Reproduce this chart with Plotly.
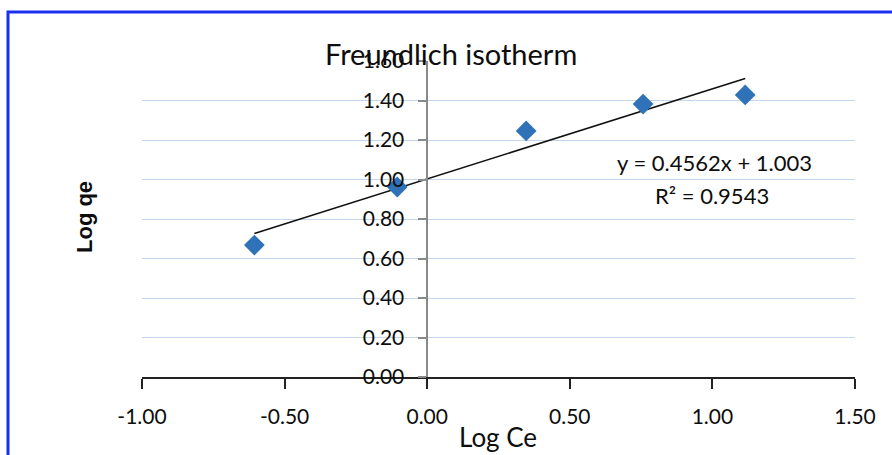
import plotly.graph_objects as go

# Freundlich isotherm data (log-transformed)
log_ce = [-0.606, -0.105, 0.347, 0.757, 1.115]
log_qe = [0.668, 0.962, 1.246, 1.382, 1.428]

# Linear fit reported on the chart
slope = 0.4562
intercept = 1.003
r_squared = 0.9543

x_ticks = [-1.0, -0.5, 0.0, 0.5, 1.0, 1.5]
y_ticks = [0.0, 0.2, 0.4, 0.6, 0.8, 1.0, 1.2, 1.4, 1.6]

W, H = 892, 455
L, R, T, B = 142, 855, 61, 377  # plot area in pixels

def px(xp):
    return (xp - L) / (R - L)

def py(yp):
    return (B - yp) / (B - T)

FONT = "Lato, sans-serif"
INK = "#0d0d0d"

fig = go.Figure()

fit_x = [min(log_ce), max(log_ce)]
fit_y = [slope * v + intercept for v in fit_x]
fig.add_trace(go.Scatter(
    x=fit_x, y=fit_y, mode="lines",
    line=dict(color="#111111", width=1.6),
    showlegend=False, hoverinfo="skip",
))

fig.add_trace(go.Scatter(
    x=log_ce, y=log_qe, mode="markers",
    marker=dict(symbol="diamond", size=16, color="#2f72b8",
                line=dict(width=0)),
    showlegend=False,
))

def note(text, x, y, size, family=FONT, angle=0, weight="normal"):
    return dict(text=text, xref="paper", yref="paper",
                x=px(x), y=py(y), xanchor="center", yanchor="middle",
                showarrow=False, textangle=angle,
                font=dict(family=family, size=size, color=INK, weight=weight))

fig.update_layout(
    width=W, height=H,
    margin=dict(l=L, r=W - R, t=T, b=H - B),
    paper_bgcolor="white", plot_bgcolor="white",
    font=dict(family=FONT, size=20, color=INK),
    xaxis=dict(
        range=[-1.0, 1.5], domain=[0, 1],
        tickvals=x_ticks, ticktext=[f"{v:.2f}" for v in x_ticks],
        showgrid=False, zeroline=False,
        showline=True, linecolor="#222222", linewidth=1.5,
        ticks="outside", ticklen=10, tickcolor="#222222", tickwidth=1.5,
        ticklabelstandoff=10,
        tickfont=dict(family=FONT, size=21, color=INK),
        anchor="y",
    ),
    yaxis=dict(
        range=[0, 1.6],
        tickvals=y_ticks, ticktext=[f"{v:.2f}" for v in y_ticks],
        showgrid=True, gridcolor="#c3d6ec", gridwidth=1.2,
        zeroline=False,
        showline=True, linecolor="#8a8a8a", linewidth=1.5,
        ticks="outside", ticklen=8, tickcolor="#8a8a8a", tickwidth=1.5,
        ticklabelstandoff=10,
        tickfont=dict(family=FONT, size=21, color=INK),
        anchor="free", position=0.4,
    ),
    shapes=[
        dict(type="rect", xref="paper", yref="paper",
             x0=px(8), x1=px(905), y0=py(470), y1=py(12),
             line=dict(color="#1a2ef0", width=3), layer="above"),
    ],
    annotations=[
        note("Freundlich isotherm", 451, 53, 29),
        note("Log qe", 84, 217, 22, family="Liberation Sans, Arial, sans-serif",
             angle=-90, weight="bold"),
        note("Log Ce", 498, 437, 26),
        note(f"y = {slope}x + {intercept}", 714, 162, 22),
        note(f"R² = {r_squared}", 712, 196, 22),
    ],
)

fig.write_html("out.html")
